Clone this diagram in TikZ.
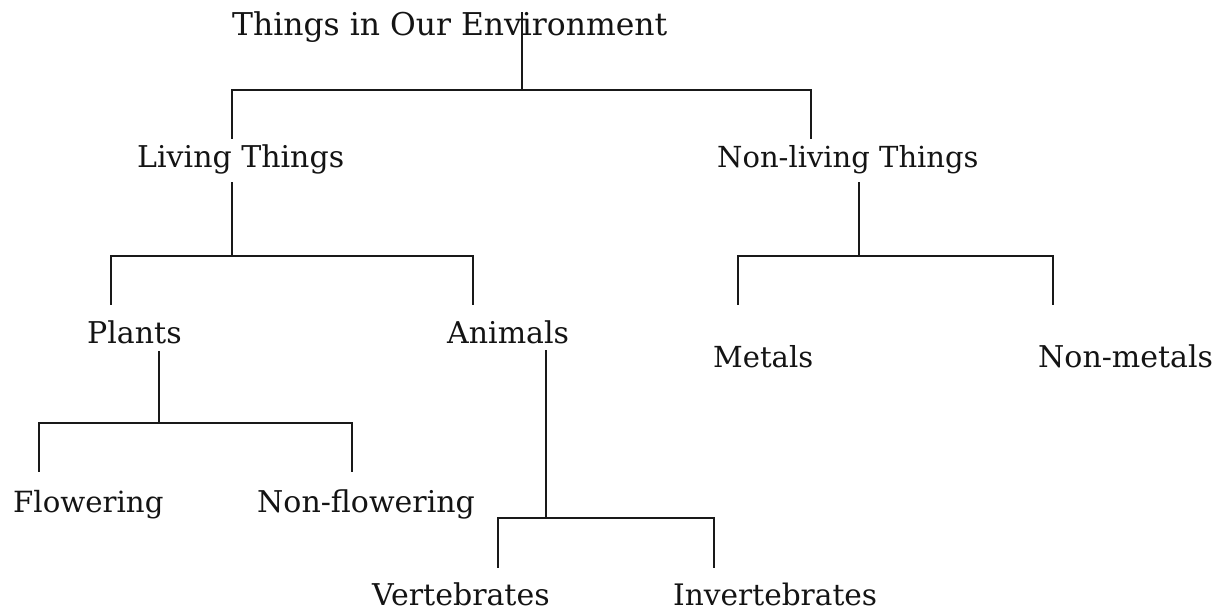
\documentclass[tikz,border=0pt]{standalone}
\usepackage{fontspec}
\setmainfont{DejaVu Serif}
\begin{document}
\begin{tikzpicture}[x=1pt,y=-1pt,
  lbl/.style={anchor=base west,inner sep=0pt,text=black!92,font=\fontsize{30}{34}\selectfont},
  link/.style={draw=black!90,line width=1.8pt,line join=miter,line cap=rect}]
\useasboundingbox[fill=white] (0,0) rectangle (1225,613);
% labels
\node[lbl,font=\fontsize{31.4}{36}\selectfont] (title) at (232,35) {Things in Our Environment};
\node[lbl] (living) at (137,167) {Living Things};
\node[lbl,font=\fontsize{29}{33}\selectfont] (nonliving) at (717,167) {Non-living Things};
\node[lbl] (plants) at (87,343) {Plants};
\node[lbl] (animals) at (447,343) {Animals};
\node[lbl,font=\fontsize{29}{33}\selectfont] (metals) at (713,367) {Metals};
\node[lbl] (nonmetals) at (1038,367) {Non-metals};
\node[lbl,font=\fontsize{29.2}{33}\selectfont] (flowering) at (13,512) {Flowering};
\node[lbl] (nonflowering) at (257,512) {Non-flowering};
\node[lbl] (vert) at (372,605) {Vertebrates};
\node[lbl,font=\fontsize{29.6}{33}\selectfont] (invert) at (673,605) {Invertebrates};
% junction coordinates
\coordinate (t0) at (522,13);   \coordinate (t1) at (522,90);
\coordinate (l0) at (232,138);  \coordinate (n0) at (811,138);
\coordinate (l1) at (232,183);  \coordinate (l2) at (232,256);
\coordinate (p0) at (111,304);  \coordinate (a0) at (473,304);
\coordinate (n1) at (859,183);  \coordinate (n2) at (859,256);
\coordinate (m0) at (738,304);  \coordinate (nm0) at (1053,304);
\coordinate (p1) at (159,352);  \coordinate (p2) at (159,423);
\coordinate (f0) at (39,471);   \coordinate (nf0) at (352,471);
\coordinate (a1) at (546,351);  \coordinate (a2) at (546,518);
\coordinate (v0) at (498,567);  \coordinate (iv0) at (714,567);
% connectors
\draw[link] (t0) -- (t1);
\draw[link] (l0) |- (t1) -| (n0);
\draw[link] (l1) -- (l2);
\draw[link] (p0) |- (l2) -| (a0);
\draw[link] (n1) -- (n2);
\draw[link] (m0) |- (n2) -| (nm0);
\draw[link] (p1) -- (p2);
\draw[link] (f0) |- (p2) -| (nf0);
\draw[link] (a1) -- (a2);
\draw[link] (v0) |- (a2) -| (iv0);
\end{tikzpicture}
\end{document}
